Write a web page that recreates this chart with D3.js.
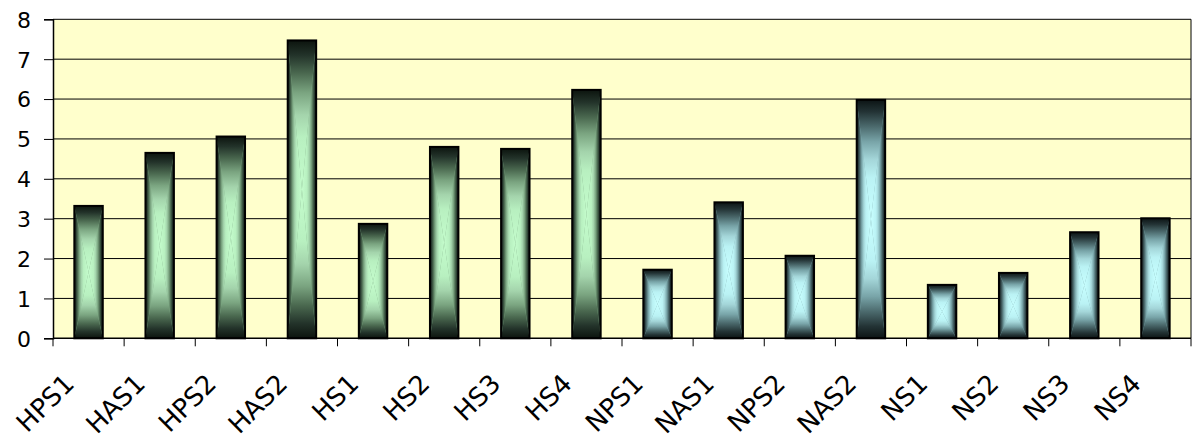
<!DOCTYPE html>
<html>
<head>
<meta charset="utf-8">
<script src="https://cdn.jsdelivr.net/npm/d3@7"></script>
<style>
  html, body { margin: 0; padding: 0; background: #ffffff; }
  svg { display: block; }
  text { font-family: "DejaVu Sans", Verdana, sans-serif; fill: #000; }
</style>
</head>
<body>
<svg id="chart" width="1196" height="442"></svg>
<script>
// Sample categories and their measured values
const categories = ["HPS1", "HAS1", "HPS2", "HAS2", "HS1", "HS2", "HS3", "HS4",
                    "NPS1", "NAS1", "NPS2", "NAS2", "NS1", "NS2", "NS3", "NS4"];
const values = [3.32, 4.65, 5.06, 7.47, 2.87, 4.80, 4.75, 6.23,
                1.72, 3.41, 2.07, 5.98, 1.34, 1.64, 2.66, 3.01];
const yTicks = [0, 1, 2, 3, 4, 5, 6, 7, 8];

// Rectangular "from centre" shading: colour stops from bar edge (0) to centre (1)
const shadeStops = {
  H: [[0, "#0c140e"], [0.1, "#23332a"], [0.22, "#4a684f"], [0.35, "#7aa480"],
      [0.5, "#a4d4ac"], [0.65, "#b8f0c0"], [1, "#c4fccc"]],
  N: [[0, "#0c1414"], [0.1, "#233335"], [0.22, "#4a686b"], [0.35, "#78a4a8"],
      [0.5, "#a4d6d9"], [0.65, "#baf2f4"], [1, "#c8ffff"]]
};

const plot = { left: 53, right: 1191, top: 19.3, bottom: 338.3 };

const svg = d3.select("#chart");
const defs = svg.append("defs");

// Four directional gradients per series (top, bottom, left, right triangles)
const dirs = {
  t: { x1: 0, y1: 0, x2: 0, y2: 1 },
  b: { x1: 0, y1: 1, x2: 0, y2: 0 },
  l: { x1: 0, y1: 0, x2: 1, y2: 0 },
  r: { x1: 1, y1: 0, x2: 0, y2: 0 }
};
Object.entries(shadeStops).forEach(([key, stops]) => {
  Object.entries(dirs).forEach(([d, v]) => {
    const g = defs.append("linearGradient")
      .attr("id", `shade-${key}-${d}`)
      .attr("x1", v.x1).attr("y1", v.y1).attr("x2", v.x2).attr("y2", v.y2);
    stops.forEach(([o, c]) => g.append("stop").attr("offset", o).attr("stop-color", c));
  });
});

const x = d3.scaleBand().domain(categories)
  .range([plot.left, plot.right]).paddingInner(0.6).paddingOuter(0.3);
const xCat = d3.scaleBand().domain(categories).range([plot.left, plot.right]).padding(0);
const y = d3.scaleLinear().domain([0, 8]).range([plot.bottom, plot.top]);

// Plot area background
svg.append("rect")
  .attr("x", plot.left).attr("y", plot.top)
  .attr("width", plot.right - plot.left).attr("height", plot.bottom - plot.top)
  .attr("fill", "#ffffcc");

// Horizontal gridlines
svg.append("g").selectAll("line").data(yTicks.filter(d => d > 0)).join("line")
  .attr("x1", plot.left).attr("x2", plot.right)
  .attr("y1", d => y(d)).attr("y2", d => y(d))
  .attr("stroke", "#000").attr("stroke-width", 1);

// Right edge of the plot area
svg.append("line")
  .attr("x1", plot.right).attr("x2", plot.right)
  .attr("y1", plot.top).attr("y2", plot.bottom)
  .attr("stroke", "#000").attr("stroke-width", 1);

// Bars
const bars = svg.append("g").selectAll("g").data(categories.map((c, i) => ({ c, v: values[i] })))
  .join("g");

bars.each(function (d) {
  const g = d3.select(this);
  const key = d.c[0];
  const x0 = x(d.c), x1 = x0 + x.bandwidth();
  const y0 = y(d.v), y1 = y(0);
  const cx = (x0 + x1) / 2, cy = (y0 + y1) / 2;
  g.append("rect").attr("x", x0).attr("y", y0).attr("width", x1 - x0).attr("height", y1 - y0)
    .attr("fill", shadeStops[key][3][1]);
  const tris = {
    t: [[x0, y0], [x1, y0], [cx, cy]],
    b: [[x0, y1], [x1, y1], [cx, cy]],
    l: [[x0, y0], [x0, y1], [cx, cy]],
    r: [[x1, y0], [x1, y1], [cx, cy]]
  };
  Object.entries(tris).forEach(([dname, pts]) => {
    g.append("path")
      .attr("d", d3.line()(pts) + "Z")
      .attr("fill", `url(#shade-${key}-${dname})`);
  });
  g.append("rect").attr("x", x0).attr("y", y0).attr("width", x1 - x0).attr("height", y1 - y0)
    .attr("fill", "none").attr("stroke", "#000").attr("stroke-width", 2);
});

// Y axis
const yAxis = svg.append("g").attr("transform", `translate(${plot.left},0)`)
  .call(d3.axisLeft(y).tickValues(yTicks).tickFormat(d3.format("d")).tickSize(9).tickPadding(13));
yAxis.select(".domain").attr("stroke", "#000").attr("stroke-width", 1.5);
yAxis.selectAll(".tick line").attr("stroke", "#000");
yAxis.selectAll("text").attr("font-size", 22).attr("font-family", "DejaVu Sans")
  .attr("dy", "0.36em");

// X axis: ticks at category boundaries
const xBounds = categories.map(c => xCat(c)).concat([plot.right]);
const xAxisG = svg.append("g");
xAxisG.append("line")
  .attr("x1", plot.left).attr("x2", plot.right)
  .attr("y1", plot.bottom).attr("y2", plot.bottom)
  .attr("stroke", "#000").attr("stroke-width", 1.5);
xAxisG.selectAll("line.tk").data(xBounds).join("line").attr("class", "tk")
  .attr("x1", d => d).attr("x2", d => d)
  .attr("y1", plot.bottom).attr("y2", plot.bottom + 8)
  .attr("stroke", "#000");

// Category labels, slanted at 45 degrees
xAxisG.selectAll("text.lbl").data(categories).join("text").attr("class", "lbl")
  .attr("text-anchor", "end")
  .attr("font-size", 26)
  .attr("transform", d => `translate(${(xCat(d) + xCat.bandwidth() / 2 - 13).toFixed(1)},${(plot.bottom + 47).toFixed(1)}) rotate(-45)`)
  .text(d => d);
</script>
</body>
</html>
